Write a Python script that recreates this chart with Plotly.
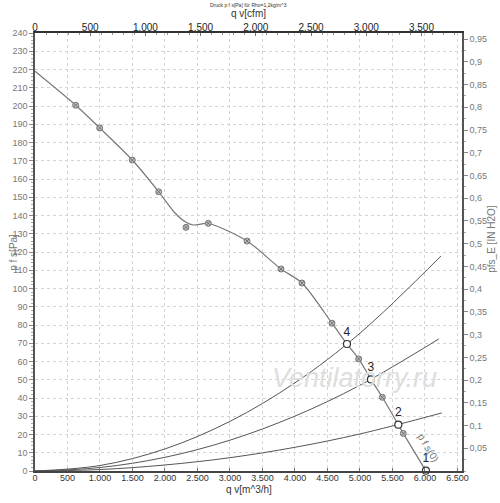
import plotly.graph_objects as go

# fan curve p f s [Pa] over q v [m^3/h]
curve_q = [0, 626, 995, 1497, 1903, 2150, 2323, 2440, 2667, 3262, 3785, 4108,
           4569, 4800, 4980, 5169, 5344, 5590, 5667, 6015]
curve_p = [219, 200.4, 188, 170.4, 153, 141.5, 136.3, 134.8, 135.6, 126, 110.7, 103,
           81, 69.6, 61.4, 50.2, 40.4, 25.4, 20.6, 0]

# measured points on the fan curve
meas_q = [626, 995, 1497, 1903, 2323, 2667, 3262, 3785, 4108, 4569, 4980, 5344, 5667]
meas_p = [200.4, 188, 170.4, 153, 133.5, 135.7, 126, 110.7, 103, 81, 61.4, 40.4, 20.6]

# system curves
sys_q = [0, 1000, 2000, 3000, 4000, 5000]
sys4_p = [0, 3.0, 12.1, 27.2, 48.3, 75.5]
sys3_p = [0, 1.9, 7.5, 16.9, 30.1, 47.0]
sys2_p = [0, 0.8, 3.3, 7.3, 13.0, 20.3]
sys_end_q = [6246, 6215, 6257]
sys_end_p = [117.8, 72.4, 31.8]

# operating points 1..4
op_labels = ["1", "2", "3", "4"]
op_q = [6015, 5590, 5169, 4800]
op_p = [0.2, 25.4, 50.2, 69.6]

x_ticks = list(range(0, 7000, 500))
cfm_ticks = list(range(0, 4000, 500))
pa_ticks = list(range(0, 250, 10))
inh2o_ticks = [round(0.05 * i, 2) for i in range(1, 20)]

X_MAX = 6570
Y_MAX = 240
M3H_PER_CFM = 1.69901
PA_PER_INH2O = 249.089

font = "Liberation Sans, Arial, sans-serif"
fig = go.Figure()

for p_vals, q_end, p_end in zip([sys4_p, sys3_p, sys2_p], sys_end_q, sys_end_p):
    fig.add_trace(go.Scatter(x=sys_q + [q_end], y=p_vals + [p_end], mode="lines",
                             line=dict(color="#555", width=1, shape="spline"),
                             hoverinfo="skip", showlegend=False))

fig.add_trace(go.Scatter(x=curve_q, y=curve_p, mode="lines",
                         line=dict(color="#777", width=1.2, shape="spline", smoothing=0.8),
                         showlegend=False))
fig.add_trace(go.Scatter(x=meas_q, y=meas_p, mode="markers",
                         marker=dict(symbol="circle-x", size=6, color="#bbb",
                                     line=dict(color="#777", width=1)),
                         showlegend=False))
fig.add_trace(go.Scatter(x=op_q, y=op_p, mode="markers+text", text=op_labels,
                         textposition="top center",
                         textfont=dict(family=font, size=12, color="#222"),
                         marker=dict(symbol="circle", size=7, color="white",
                                     line=dict(color="#333", width=1.2)),
                         cliponaxis=False, showlegend=False))

# dummy traces so the secondary axes are drawn
fig.add_trace(go.Scatter(x=[0], y=[0], xaxis="x2", mode="markers",
                         marker=dict(opacity=0), hoverinfo="skip", showlegend=False))
fig.add_trace(go.Scatter(x=[0], y=[0], yaxis="y2", mode="markers",
                         marker=dict(opacity=0), hoverinfo="skip", showlegend=False))

fig.add_annotation(x=4923, y=51, xref="x", yref="y", text="<i>Ventilatorry.ru</i>",
                   showarrow=False, font=dict(family=font, size=27, color="#dedede"))
fig.add_annotation(x=6050, y=13, xref="x", yref="y", text="p f s(0)", textangle=59,
                   showarrow=False, font=dict(family=font, size=10, color="#777"))

titles = [
    (0.5, 1.064, "Druck p f s[Pa] für Rho=1,2kg/m^3", 0, 5, "#333"),
    (0.5, 1.044, "q v[cfm]", 0, 10, "#333"),
    (0.5, -0.042, "q v[m^3/h]", 0, 10, "#333"),
    (-0.052, 0.5, "p f s[Pa]", -90, 10, "#777"),
    (1.07, 0.53, "pfs_E [IN H2O]", -90, 10, "#777"),
]
for tx, ty, txt, ang, size, col in titles:
    fig.add_annotation(x=tx, y=ty, xref="paper", yref="paper", text=txt, textangle=ang,
                       xanchor="center", yanchor="middle", showarrow=False,
                       font=dict(family=font, size=size, color=col))

grid = dict(showgrid=True, gridcolor="#d4d4d4", griddash="dot", gridwidth=1)

fig.update_layout(
    width=500, height=503,
    margin=dict(l=35, r=38, t=33, b=32),
    paper_bgcolor="white", plot_bgcolor="white",
    separators=",.",
    font=dict(family=font, size=9, color="#333"),
    xaxis=dict(range=[0, X_MAX], tickvals=x_ticks, tickformat=",d", automargin=False,
               showline=True, linecolor="#444", linewidth=1.5,
               ticks="inside", ticklen=3, tickcolor="#777", ticklabelstandoff=-3,
               tickfont=dict(size=9, color="#333"), zeroline=False, **grid),
    xaxis2=dict(range=[0, X_MAX / M3H_PER_CFM], overlaying="x", side="top",
                tickvals=cfm_ticks, tickformat=",d", showgrid=False, zeroline=False,
                automargin=False, showline=True, linecolor="#333", linewidth=2,
                ticks="inside", ticklen=3, tickcolor="#777", ticklabelstandoff=-4,
                minor=dict(ticks="inside", dtick=100, ticklen=2, tickcolor="#999"),
                tickfont=dict(size=10, color="#222")),
    yaxis=dict(range=[0, Y_MAX], tickvals=pa_ticks, automargin=False,
               showline=True, linecolor="#555",
               linewidth=1.5, ticks="outside", ticklen=4, tickcolor="#888",
               minor=dict(ticks="outside", dtick=2, ticklen=2, tickcolor="#aaa"),
               tickfont=dict(size=9, color="#777"), zeroline=False, **grid),
    yaxis2=dict(range=[0, Y_MAX / PA_PER_INH2O], overlaying="y", side="right",
                tickvals=inh2o_ticks, tickformat=".2~f", showgrid=False, zeroline=False,
                automargin=False, showline=True, linecolor="#555", linewidth=1.5,
                ticks="outside", ticklen=4, tickcolor="#888",
                minor=dict(ticks="outside", dtick=0.025, ticklen=2, tickcolor="#aaa"),
                tickfont=dict(size=9, color="#777")),
)

# drop the default 8px body margin so the figure fills the window
fig.write_html("out.html", config={"displayModeBar": False},
               post_script="document.body.style.margin = '0';")
